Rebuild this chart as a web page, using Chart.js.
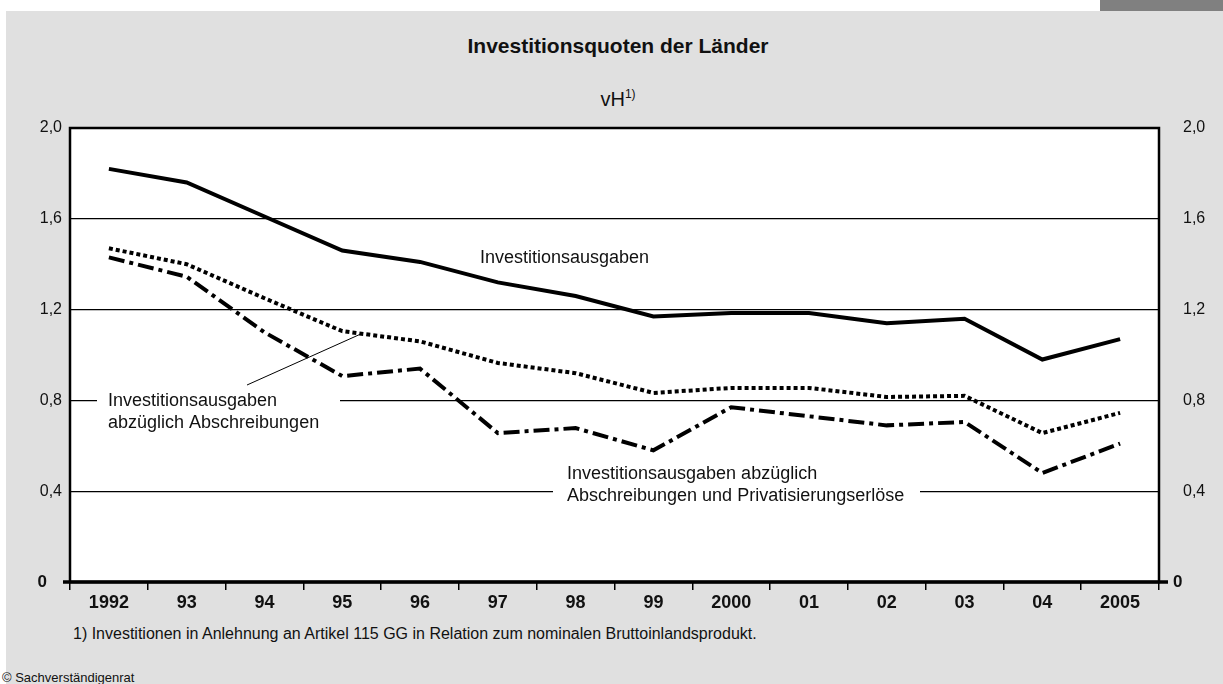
<!DOCTYPE html>
<html lang="de">
<head>
<meta charset="utf-8">
<title>Investitionsquoten der Länder</title>
<script src="https://cdn.jsdelivr.net/npm/chart.js@4/dist/chart.umd.min.js"></script>
<style>
    html, body { margin: 0; padding: 0; background: #fff; }
    body { width: 1223px; height: 684px; position: relative; overflow: hidden;
           font-family: "Liberation Sans", Arial, Helvetica, sans-serif; color: #111; }
    .panel  { position: absolute; left: 6px; top: 11px; width: 1217px; height: 673px; background: #e0e0e0; }
    .tab    { position: absolute; left: 1100px; top: 0; width: 123px; height: 11px; background: #808080; }
    .txt    { position: absolute; white-space: nowrap; line-height: 1; }
    #title  { left: 0; width: 1236px; text-align: center; top: 35px; font-size: 21px; font-weight: bold; }
    #unit   { left: 0; width: 1236px; text-align: center; top: 89px; font-size: 20px; }
    #unit sup { font-size: 12px; vertical-align: 8px; line-height: 0; }
    #note   { left: 73px; top: 626px; font-size: 16px; }
    #copy   { left: 2px; top: 671px; font-size: 13px; }
    canvas  { position: absolute; left: 0; top: 0; }
</style>
</head>
<body>
<div class="panel"></div>
<div class="tab"></div>
<div class="txt" id="title">Investitionsquoten der Länder</div>
<div class="txt" id="unit">vH<sup>1)</sup></div>
<div class="txt" id="note">1) Investitionen in Anlehnung an Artikel 115 GG in Relation zum nominalen Bruttoinlandsprodukt.</div>
<div class="txt" id="copy">© Sachverständigenrat</div>
<canvas id="chart" width="1223" height="684"></canvas>

<script>
// --- data ---
const years = ['1992', '93', '94', '95', '96', '97', '98', '99', '2000', '01', '02', '03', '04', '2005'];

const investitionsausgaben     = [1.82, 1.76, 1.61, 1.46, 1.41, 1.32, 1.26, 1.17, 1.185, 1.185, 1.14, 1.16, 0.98, 1.07];
const abzAbschreibungen        = [1.47, 1.40, 1.25, 1.105, 1.06, 0.965, 0.92, 0.833, 0.855, 0.855, 0.815, 0.82, 0.656, 0.745];
const abzAbschrPrivatisierung  = [1.43, 1.345, 1.10, 0.907, 0.94, 0.656, 0.678, 0.58, 0.77, 0.73, 0.69, 0.705, 0.48, 0.61];

const yTicks = [0, 0.4, 0.8, 1.2, 1.6, 2.0];

const FONT = '"Liberation Sans", Arial, Helvetica, sans-serif';

// Labels placed inside the plot (white boxes cut the grid lines)
const notes = [
    { lines: ['Investitionsausgaben'], x: 480, y: 258 },
    { lines: ['Investitionsausgaben', 'abzüglich Abschreibungen'], x: 108, y: 401, box: [97, 340] },
    { lines: ['Investitionsausgaben abzüglich', 'Abschreibungen und Privatisierungserlöse'], x: 567, y: 474, box: [553, 920] }
];

const fmt = v => v === 0 ? '' : v.toFixed(1).replace('.', ',');

/**
 * Draws the white plot background, frame, zero line, inline labels and leader line.
 */
const framePlugin = {
    id: 'frame',
    beforeDraw(chart) {
        const { ctx, chartArea: a } = chart;
        ctx.save();
        ctx.fillStyle = '#fff';
        ctx.fillRect(a.left, a.top, a.right - a.left, a.bottom - a.top);
        ctx.restore();
    },
    beforeDatasetsDraw(chart) {
        const { ctx } = chart;
        ctx.save();
        ctx.font = `18px ${FONT}`;
        ctx.textBaseline = 'middle';
        ctx.fillStyle = '#111';
        notes.forEach(n => {
            if (n.box) {
                ctx.fillStyle = '#fff';
                ctx.fillRect(n.box[0], n.y - 12, n.box[1] - n.box[0], n.lines.length * 22 + 2);
                ctx.fillStyle = '#111';
            }
            n.lines.forEach((line, i) => ctx.fillText(line, n.x, n.y + i * 22));
        });
        ctx.restore();
    },
    afterDatasetsDraw(chart) {
        const { ctx, chartArea: a, scales } = chart;
        ctx.save();
        ctx.strokeStyle = '#000';

        // frame
        ctx.lineWidth = 2.5;
        ctx.strokeRect(a.left, a.top, a.right - a.left, a.bottom - a.top);

        // zero line, slightly past both sides
        const y0 = scales.y.getPixelForValue(0);
        ctx.lineWidth = 3.5;
        ctx.beginPath();
        ctx.moveTo(a.left - 7, y0);
        ctx.lineTo(a.right + 9, y0);
        ctx.stroke();

        // leader line to the dotted series
        ctx.lineWidth = 1;
        ctx.beginPath();
        ctx.moveTo(247, 385);
        ctx.lineTo(363, 333);
        ctx.stroke();

        // bold zero labels
        ctx.font = `bold 17px ${FONT}`;
        ctx.fillStyle = '#111';
        ctx.textBaseline = 'middle';
        ctx.textAlign = 'right';
        ctx.fillText('0', a.left - 23, y0);
        ctx.textAlign = 'left';
        ctx.fillText('0', a.right + 14, y0);
        ctx.restore();
    }
};

const yCommon = {
    min: 0,
    max: 2,
    afterBuildTicks: scale => { scale.ticks = yTicks.map(v => ({ value: v })); },
    border: { display: false },
    ticks: {
        callback: fmt,
        color: '#111',
        font: { family: FONT, size: 16 }
    }
};

new Chart(document.getElementById('chart'), {
    type: 'line',
    data: {
        labels: years,
        datasets: [{
            label: 'Investitionsausgaben',
            data: investitionsausgaben,
            borderColor: '#000',
            borderWidth: 4,
            borderCapStyle: 'butt',
            borderJoinStyle: 'miter'
        }, {
            label: 'Investitionsausgaben abzüglich Abschreibungen',
            data: abzAbschreibungen,
            borderColor: '#000',
            borderWidth: 4,
            borderDash: [4, 3],
            borderCapStyle: 'butt'
        }, {
            label: 'Investitionsausgaben abzüglich Abschreibungen und Privatisierungserlöse',
            data: abzAbschrPrivatisierung,
            borderColor: '#000',
            borderWidth: 4,
            borderDash: [16, 5, 4, 5],
            borderCapStyle: 'butt'
        }]
    },
    options: {
        responsive: false,
        animation: false,
        events: [],
        elements: { point: { radius: 0 }, line: { tension: 0, fill: false } },
        layout: { padding: { top: 128, left: 0, right: 0, bottom: 72 } },
        plugins: { legend: { display: false }, tooltip: { enabled: false }, title: { display: false } },
        scales: {
            x: {
                offset: true,
                border: { display: false },
                grid: {
                    offset: true,
                    drawOnChartArea: false,
                    drawTicks: true,
                    tickLength: 8,
                    color: '#000',
                    lineWidth: 1.5
                },
                ticks: {
                    padding: 2,
                    maxRotation: 0,
                    autoSkip: false,
                    color: '#111',
                    font: { family: FONT, size: 18, weight: 'bold' }
                },
                afterFit: scale => { scale.height = 30; }
            },
            y: {
                ...yCommon,
                position: 'left',
                grid: {
                    drawTicks: false,
                    color: c => (c.tick && c.tick.value > 0 && c.tick.value < 2) ? '#000' : 'rgba(0,0,0,0)',
                    lineWidth: 1.3
                },
                ticks: { ...yCommon.ticks, padding: 8 },
                afterFit: scale => { scale.width = 70; }
            },
            y2: {
                ...yCommon,
                position: 'right',
                grid: { display: false },
                ticks: { ...yCommon.ticks, padding: 16 },
                afterFit: scale => { scale.width = 64; }
            }
        }
    },
    plugins: [framePlugin]
});
</script>
</body>
</html>
